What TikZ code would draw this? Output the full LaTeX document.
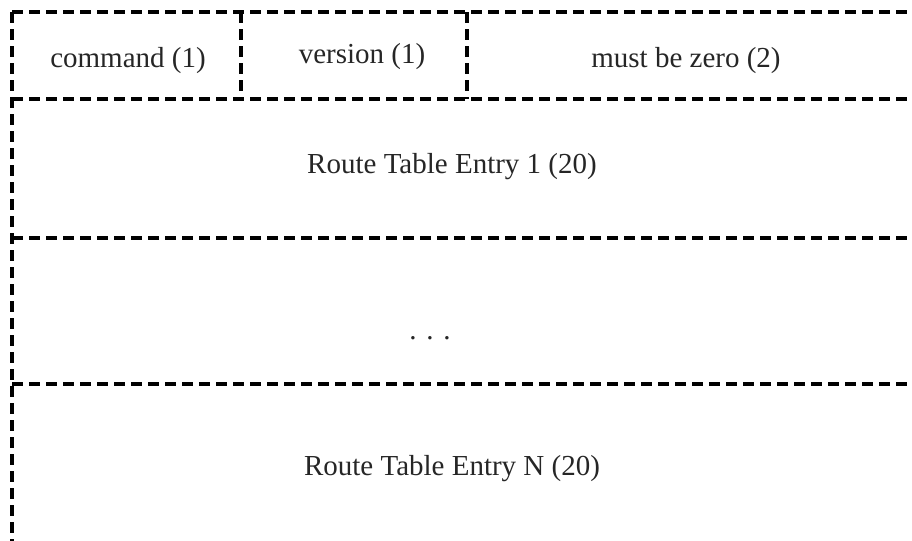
\documentclass[tikz,border=0pt]{standalone}
\usepackage{fontspec}
\setmainfont{Liberation Serif}
\begin{document}
\begin{tikzpicture}[x=0.5pt,y=-0.5pt,
  dline/.style={draw=black, line width=1.6pt, dash pattern=on 5.5pt off 3pt},
  lbl/.style={font=\fontsize{14.5}{17}\selectfont, text=black!85, inner sep=0pt}]
\useasboundingbox (0,0) rectangle (912,541);
% frame coordinates
\coordinate (tl) at (12,12);
\coordinate (tr) at (912,12);
\coordinate (bl) at (12,541);
\coordinate (l1) at (12,99);  \coordinate (r1) at (912,99);
\coordinate (l2) at (12,238); \coordinate (r2) at (912,238);
\coordinate (l3) at (12,384); \coordinate (r3) at (912,384);
\coordinate (d1t) at (241,12); \coordinate (d1b) at (241,99);
\coordinate (d2t) at (467,12); \coordinate (d2b) at (467,99);
% lines
\draw[dline] (tl) -- (tr);
\draw[dline] (tl) -- (bl);
\draw[dline] (l1) -- (r1);
\draw[dline] (l2) -- (r2);
\draw[dline] (l3) -- (r3);
\draw[dline] (d1t) -- (d1b);
\draw[dline] (d2t) -- (d2b);
% labels
\node[lbl] (cmd) at (128,61) {command (1)};
\node[lbl] (ver) at (362,57) {version (1)};
\node[lbl] (mbz) at (686,61) {must be zero (2)};
\node[lbl] (rte1) at (452,167) {Route Table Entry 1 (20)};
\node[lbl] (dots) at (430,338) {. . .};
\node[lbl] (rten) at (452,469) {Route Table Entry N (20)};
\end{tikzpicture}
\end{document}
